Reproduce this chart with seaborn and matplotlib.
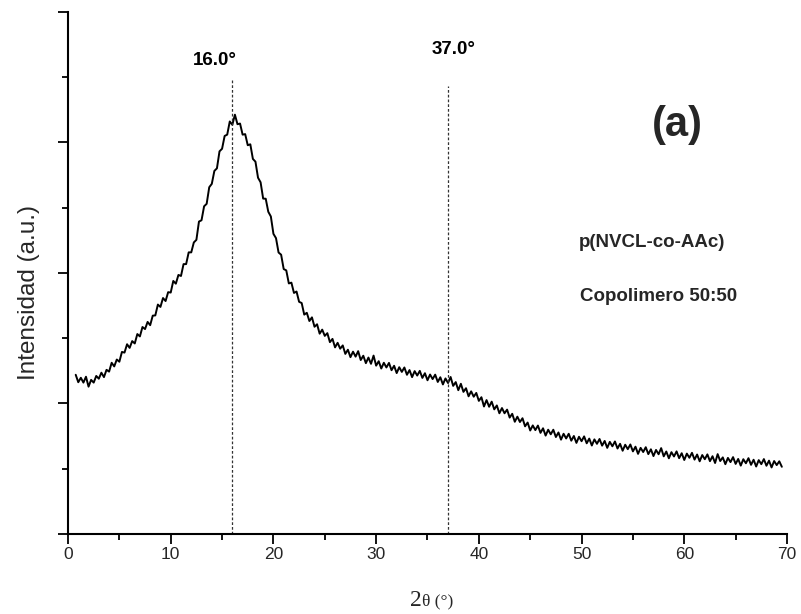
import numpy as np
import pandas as pd
import matplotlib
matplotlib.use("Agg")
import matplotlib.pyplot as plt
from matplotlib import font_manager
import seaborn as sns

# XRD scan: 2-theta sampling grid
scan_start = 0.75
scan_step = 0.25

# Measured intensity (a.u.), one value per grid step
intensity = [
    1.22, 1.163, 1.197, 1.16, 1.205, 1.129, 1.181, 1.16, 1.211, 1.19,
    1.236, 1.202, 1.258, 1.244, 1.312, 1.284, 1.337, 1.32, 1.395, 1.39,
    1.454, 1.426, 1.478, 1.46, 1.532, 1.514, 1.586, 1.57, 1.625, 1.60,
    1.673, 1.675, 1.758, 1.74, 1.808, 1.785, 1.853, 1.85, 1.939, 1.918,
    1.985, 1.977, 2.068, 2.068, 2.158, 2.158, 2.234, 2.254, 2.394, 2.404,
    2.511, 2.53, 2.657, 2.683, 2.782, 2.802, 2.932, 2.952, 3.05, 3.06,
    3.161, 3.136, 3.213, 3.14, 3.145, 3.06, 3.064, 2.979, 2.986, 2.874,
    2.853, 2.73, 2.695, 2.57, 2.569, 2.469, 2.433, 2.30, 2.267, 2.157,
    2.14, 2.03, 2.02, 1.92, 1.926, 1.847, 1.858, 1.779, 1.77, 1.681,
    1.695, 1.632, 1.66, 1.588, 1.607, 1.535, 1.566, 1.518, 1.539, 1.47,
    1.495, 1.43, 1.465, 1.42, 1.445, 1.38, 1.412, 1.355, 1.397, 1.359,
    1.401, 1.333, 1.366, 1.309, 1.352, 1.304, 1.367, 1.29, 1.324, 1.268,
    1.312, 1.276, 1.311, 1.255, 1.289, 1.233, 1.278, 1.242, 1.276, 1.22,
    1.256, 1.202, 1.248, 1.214, 1.25, 1.196, 1.232, 1.178, 1.222, 1.187,
    1.221, 1.165, 1.201, 1.146, 1.192, 1.157, 1.203, 1.135, 1.164, 1.102,
    1.151, 1.089, 1.117, 1.055, 1.093, 1.052, 1.081, 1.02, 1.048, 0.977,
    1.026, 0.975, 1.014, 0.955, 0.985, 0.925, 0.965, 0.925, 0.953, 0.892,
    0.921, 0.86, 0.899, 0.858, 0.887, 0.825, 0.854, 0.793, 0.832, 0.796,
    0.831, 0.775, 0.81, 0.754, 0.799, 0.764, 0.799, 0.743, 0.778, 0.723,
    0.768, 0.732, 0.768, 0.715, 0.751, 0.698, 0.745, 0.711, 0.748, 0.695,
    0.731, 0.678, 0.725, 0.691, 0.728, 0.677, 0.713, 0.66, 0.706, 0.672,
    0.709, 0.655, 0.691, 0.638, 0.684, 0.65, 0.686, 0.633, 0.669, 0.614,
    0.66, 0.628, 0.665, 0.612, 0.649, 0.597, 0.644, 0.611, 0.658, 0.595,
    0.632, 0.58, 0.627, 0.594, 0.633, 0.581, 0.619, 0.567, 0.616, 0.584,
    0.622, 0.57, 0.609, 0.557, 0.605, 0.573, 0.61, 0.558, 0.596, 0.544,
    0.612, 0.559, 0.587, 0.535, 0.583, 0.551, 0.589, 0.537, 0.575, 0.524,
    0.573, 0.542, 0.581, 0.53, 0.569, 0.517, 0.566, 0.535, 0.574, 0.523,
    0.562, 0.51, 0.559, 0.528, 0.557, 0.515,
]
two_theta = scan_start + scan_step * np.arange(len(intensity))

# Marked reflections
peak_positions = [16.0, 37.0]
peak_labels = ["16.0°", "37.0°"]
peak_line_tops = [3.49, 3.43]
peak_label_x = [14.3, 37.5]
peak_label_y = [3.63, 3.71]

x_ticks = [0, 10, 20, 30, 40, 50, 60, 70]

df = pd.DataFrame({"two_theta": two_theta, "intensity": intensity})

sns.set_theme(style="ticks")
plt.rcParams["font.family"] = ["Liberation Sans", "DejaVu Sans"]

installed = {f.name for f in font_manager.fontManager.ttflist}
tick_family = ["Liberation Sans Narrow", "Liberation Sans"] \
    if "Liberation Sans Narrow" in installed else ["Liberation Sans"]

fig = plt.figure(figsize=(8.01, 6.14), dpi=100)
ax = fig.add_axes([0.0849, 0.1303, 0.8976, 0.8502])

sns.lineplot(data=df, x="two_theta", y="intensity", color="black",
             linewidth=1.4, ax=ax, estimator=None, sort=False)

for pos, top, lab, lx, ly in zip(peak_positions, peak_line_tops, peak_labels,
                                 peak_label_x, peak_label_y):
    ax.plot([pos, pos], [0, top], color="#333333", linewidth=0.9,
            linestyle=(0, (2.2, 1.6)))
    ax.text(lx, ly, lab, ha="center", va="center", fontsize=13.5,
            fontweight="bold", color="black")

ax.text(0.847, 0.7835, "(a)", transform=ax.transAxes, ha="center",
        va="center", fontsize=30, fontweight="bold")
ax.text(0.812, 0.5575, "p(NVCL-co-AAc)", transform=ax.transAxes,
        ha="center", va="center", fontsize=13.5, fontweight="bold")
ax.text(0.822, 0.454, "Copolimero 50:50", transform=ax.transAxes,
        ha="center", va="center", fontsize=13.5, fontweight="bold")

ax.set_xlim(0, 70)
ax.set_ylim(0, 4)
ax.set_xticks(x_ticks)
ax.set_xticks(np.arange(5, 70, 10), minor=True)
ax.set_xticklabels([str(t) for t in x_ticks], fontsize=12.5,
                   family=tick_family)
ax.set_yticks([0, 1, 2, 3, 4])
ax.set_yticks([0.5, 1.5, 2.5, 3.5], minor=True)
ax.set_yticklabels([])

sns.despine(ax=ax)
for side in ("left", "bottom"):
    ax.spines[side].set_linewidth(1.5)
    ax.spines[side].set_color("black")
ax.tick_params(axis="both", which="major", direction="out", length=7,
               width=1.3, color="black", pad=2.5)
ax.tick_params(axis="both", which="minor", direction="out", length=4,
               width=1.3, color="black")

ax.set_ylabel("")
ax.set_xlabel("")
fig.text(0.036, 0.524, "Intensidad (a.u.)", rotation=90, fontsize=17.5,
         ha="center", va="center")
fig.text(0.5265, 0.0135, "2", fontsize=17, family="Liberation Serif",
         ha="right", va="baseline")
fig.text(0.5265, 0.0135, "θ (°)", fontsize=12.5, family="Liberation Serif",
         ha="left", va="baseline")

ax.grid(False)
fig.savefig("out.png", dpi=100)
